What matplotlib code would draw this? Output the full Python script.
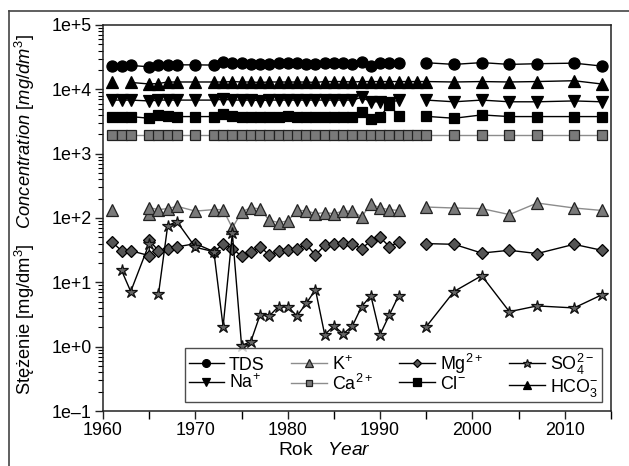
import numpy as np
import matplotlib
matplotlib.use('Agg')
import matplotlib.pyplot as plt
from matplotlib import font_manager
from matplotlib.lines import Line2D
from matplotlib.ticker import FixedLocator, FuncFormatter, LogLocator, NullFormatter

# ================= DATA =================
nan = np.nan

# TDS / Na+ / Cl- share the same sampling years (break between 1992 and 1995)
yrs_main = [1961, 1962, 1963, 1965, 1966, 1967, 1968, 1970,
            1972, 1973, 1974, 1975, 1976, 1977, 1978, 1979, 1980, 1981, 1982,
            1983, 1984, 1985, 1986, 1987, 1988, 1989, 1990, 1991, 1992,
            1993.5,
            1995, 1998, 2001, 2004, 2007, 2011, 2014]
tds = [23200, 23200, 23500, 22400, 23500, 24000, 24000, 24000,
       23800, 26500, 25800, 25500, 25000, 25000, 25000, 25500, 25500, 25500, 25000,
       25000, 25400, 25800, 25400, 25000, 26900, 23000, 25400, 25400, 25400,
       nan,
       25900, 24400, 26000, 24400, 25000, 25500, 23000]
na = [6800, 6800, 6800, 6600, 6800, 6800, 6800, 6800,
      6800, 7000, 6800, 6800, 6800, 6700, 6800, 6800, 6800, 6800, 6800,
      6800, 6800, 6800, 6800, 6800, 7500, 6400, 6400, 6200, 6800,
      nan,
      6800, 6400, 6800, 6400, 6400, 6600, 6400]
cl = [3770, 3770, 3770, 3550, 4000, 3800, 3770, 3770,
      3770, 4180, 3800, 3770, 3770, 3770, 3770, 3770, 3800, 3770, 3770,
      3770, 3770, 3770, 3770, 3770, 4450, 3420, 3770, 5700, 3900,
      nan,
      3800, 3550, 4000, 3770, 3770, 3770, 3770]

# HCO3- and Ca2+ run on through 1993-1994
yrs_hco3 = [1961, 1962, 1963, 1965, 1966, 1967, 1968, 1970,
            1972, 1973, 1974, 1975, 1976, 1977, 1978, 1979, 1980, 1981, 1982,
            1983, 1984, 1985, 1986, 1987, 1988, 1989, 1990, 1991, 1992,
            1993, 1994, 1995, 1998, 2001, 2004, 2007, 2011, 2014]
hco3 = [12800, nan, 12800, 12100, 12300, 13000, 13000, 13000,
        13000, 13000, 13200, 13000, 13000, 12800, 13000, 13000, 13000, 13000, 13000,
        12800, 13200, 13200, 13200, 13000, 13200, 13200, 13200, 13200, 13200,
        13200, 13200, 13200, 13000, 13200, 13000, 13200, 13600, 12100]
ca = [1950, 1950, 1950, 1950, 1950, 1950, 1950, 1950,
      1950, 1950, 1950, 1950, 1950, 1950, 1950, 1950, 1950, 1950, 1950,
      1950, 1950, 1950, 1950, 1950, 1950, 1950, 1950, 1950, 1950,
      1950, 1950, 1950, 1950, 1950, 1950, 1950, 1950, 1950]

# K+ and Mg2+ (two samples in 1965)
yrs_km = [1961, 1963, 1965, 1965, 1966, 1967, 1968, 1970,
          1972, 1973, 1974, 1975, 1976, 1977, 1978, 1979, 1980, 1981, 1982,
          1983, 1984, 1985, 1986, 1987, 1988, 1989, 1990, 1991, 1992,
          1993.5,
          1995, 1998, 2001, 2004, 2007, 2011, 2014]
k = [131, nan, 117, 145, 135, 140, 152, 128,
     135, 135, 70, 124, 145, 138, 92, 85, 90, 131, 130,
     117, 121, 117, 128, 128, 104, 167, 143, 135, 131,
     nan,
     148, 143, 140, 113, 171, 143, 131]
yrs_mg = [1961, 1962, 1963, 1965, 1965, 1966, 1967, 1968, 1970,
          1972, 1973, 1974, 1975, 1976, 1977, 1978, 1979, 1980, 1981, 1982,
          1983, 1984, 1985, 1986, 1987, 1988, 1989, 1990, 1991, 1992,
          1993.5,
          1995, 1998, 2001, 2004, 2007, 2011, 2014]
mg = [42, 31, 31, 26, 45, 31, 33.5, 35.5, 40,
      30, 39, 33.5, 25.5, 30, 36, 26.5, 30.5, 31.5, 33.5, 39,
      26.5, 37.5, 39, 41, 39, 33.5, 44, 50, 36, 42,
      nan,
      40, 39, 28.5, 31.5, 28, 39, 31.5]

yrs_so4 = [1962, 1963, 1965, 1965.5, 1966, 1967, 1968, 1970,
           1972, 1973, 1974, 1975, 1976, 1977, 1978, 1979, 1980, 1981, 1982,
           1983, 1984, 1985, 1986, 1987, 1988, 1989, 1990, 1991, 1992,
           1993.5,
           1995, 1998, 2001, 2004, 2007, 2011, 2014]
so4 = [15.4, 7.2, 40, nan, 6.5, 76, 88, 35,
       30, 2.05, 58, 1.04, 1.2, 3.1, 3.0, 4.2, 4.2, 3.0, 4.7,
       7.7, 1.54, 2.1, 1.58, 2.1, 4.2, 6.2, 1.54, 3.1, 6.2,
       nan,
       2.05, 7.2, 12.7, 3.5, 4.3, 4.0, 6.4]

# ================= STYLE =================
# narrow font, like the printed original
names = {f.name for f in font_manager.fontManager.ttflist}
if 'Liberation Sans Narrow' in names:
    BASE = 'Liberation Sans Narrow'
    SCALE = 1.0
else:
    BASE = 'Liberation Sans'
    SCALE = 0.86
plt.rcParams['font.family'] = [BASE, 'DejaVu Sans']
plt.rcParams['mathtext.fontset'] = 'custom'
plt.rcParams['mathtext.rm'] = BASE
plt.rcParams['mathtext.it'] = BASE + ':italic'
plt.rcParams['mathtext.bf'] = BASE + ':bold'

fig = plt.figure(figsize=(6.29, 4.66), dpi=100)
ax = fig.add_axes([0.1638, 0.118, 0.8076, 0.8284])

GRAY_FILL = '#7a7a7a'
GRAY_LINE = '#8c8c8c'

series = [
    # label, x, y, marker, ms, face, edge, line color
    ('TDS', yrs_main, tds, 'o', 8, 'black', 'black', 'black'),
    ('Na$^{+}$', yrs_main, na, 'v', 8, 'black', 'black', 'black'),
    ('K$^{+}$', yrs_km, k, '^', 8, GRAY_FILL, '#222222', GRAY_LINE),
    ('Ca$^{2+}$', yrs_hco3, ca, 's', 7, GRAY_FILL, '#222222', GRAY_LINE),
    ('Mg$^{2+}$', yrs_mg, mg, 'D', 6.5, '#555555', 'black', 'black'),
    ('Cl$^{-}$', yrs_main, cl, 's', 7.5, 'black', 'black', 'black'),
    ('SO$_4^{2-}$', yrs_so4, so4, '*', 9, '#666666', '#111111', 'black'),
    ('HCO$_3^{-}$', yrs_hco3, hco3, '^', 8, 'black', 'black', 'black'),
]

handles = []
for label, xs, ys, mk, ms, fc, ec, lc in series:
    ax.plot(xs, ys, color=lc, lw=1.0, marker=mk, ms=ms,
            mfc=fc, mec=ec, mew=0.9, zorder=3)
    handles.append(Line2D([0], [0], color=lc, lw=1.0, marker=mk, ms=ms * 0.7,
                          mfc=fc, mec=ec, mew=0.9, label=label))

ax.set_yscale('log')
ax.set_ylim(0.1, 1e5)
ax.set_xlim(1960, 2015)

ax.yaxis.set_major_locator(LogLocator(base=10, numticks=10))
ax.yaxis.set_minor_locator(LogLocator(base=10, subs=np.arange(2, 10), numticks=20))
ax.yaxis.set_minor_formatter(NullFormatter())


def fmt_exp(v, pos):
    e = int(round(np.log10(v)))
    return f"1e+{e}" if e >= 0 else f"1e\u2013{-e}"


ax.yaxis.set_major_formatter(FuncFormatter(fmt_exp))

ax.xaxis.set_major_locator(FixedLocator([1960, 1970, 1980, 1990, 2000, 2010]))
ax.xaxis.set_minor_locator(FixedLocator([1965, 1975, 1985, 1995, 2005, 2015]))

ax.tick_params(axis='both', which='major', direction='out', length=6, width=1,
               labelsize=15 * SCALE, color='#222222', pad=2)
ax.tick_params(axis='y', which='minor', direction='out', length=3.5, width=0.8)
ax.tick_params(axis='x', which='minor', direction='out', length=6, width=1)
for sp in ax.spines.values():
    sp.set_linewidth(1.1)
    sp.set_color('#222222')

ax.set_ylabel("Stężenie [mg/dm$^3$]   $\\mathit{Concentration\\ [mg/dm^3]}$",
              fontsize=15.4 * SCALE)
ax.yaxis.set_label_coords(-0.13, 0.51)
ax.set_xlabel("Rok   $\\mathit{Year}$", fontsize=16 * SCALE)
ax.xaxis.set_label_coords(0.435, -0.08)

leg = ax.legend(handles=handles, ncol=4, loc='lower right',
                bbox_to_anchor=(0.982, 0.023), borderaxespad=0,
                fontsize=15 * SCALE,
                frameon=True, fancybox=False, edgecolor='#222222',
                handlelength=2.0, handletextpad=0.25, columnspacing=1.5,
                borderpad=0.2, labelspacing=0.0)
leg.get_frame().set_linewidth(1.0)

# outer frame of the printed figure (only top and left visible)
fig.add_artist(Line2D([9 / 629, 1.0], [1 - 11 / 466, 1 - 11 / 466],
                      color='#444444', lw=1.2, transform=fig.transFigure))
fig.add_artist(Line2D([9 / 629, 9 / 629], [0.0, 1 - 11 / 466],
                      color='#444444', lw=1.2, transform=fig.transFigure))

fig.savefig('out.png', dpi=100)
